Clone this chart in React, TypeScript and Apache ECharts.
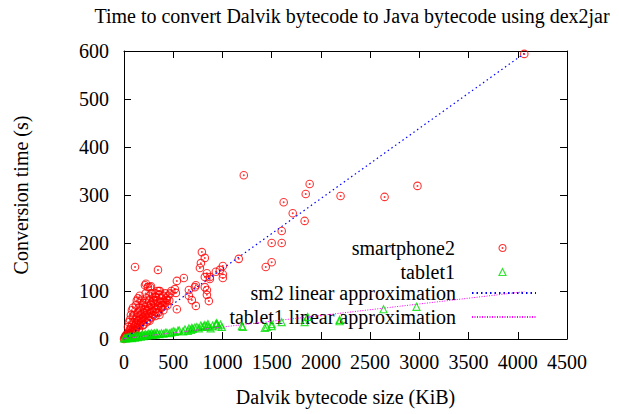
import React, { useEffect, useRef } from "react";
import * as echarts from "echarts";

const titleText = "Time to convert Dalvik bytecode to Java bytecode using dex2jar";
const xAxisName = "Dalvik bytecode size (KiB)";
const yAxisName = "Conversion time (s)";
const seriesNames = [
  "smartphone2",
  "tablet1",
  "sm2 linear approximation",
  "tablet1 linear approximation",
];

// smartphone2: [size KiB, time s]
const smartphone2: number[][] = [
  [4066, 594], [2981, 319], [2647, 296], [2200, 298], [1886, 323], [1846, 302],
  [1835, 246], [1714, 262], [1622, 285], [1602, 225], [1602, 200], [1500, 200],
  [1500, 160], [1440, 150], [1217, 341], [1166, 167],
  [1004, 152], [974, 144], [933, 140], [1004, 135], [1004, 127], [872, 129],
  [842, 137], [821, 129], [872, 125], [791, 181], [821, 169], [781, 158],
  [771, 148], [730, 112], [720, 108], [821, 108], [842, 102], [608, 127],
  [537, 121], [517, 104], [527, 96], [659, 102], [659, 90], [689, 81],
  [730, 69], [842, 92], [862, 79], [537, 62], [345, 144], [112, 150],
  [355, 100], [223, 115], [243, 108], [274, 110], [325, 88], [213, 112],
  [264, 108], [365, 100], [314, 88], [142, 85], [436, 81], [91, 65],
  [91, 48], [172, 65], [274, 71], [395, 77], [375, 67],
  [0, 0], [10, -2], [5, 2], [10, 5], [15, 3], [20, 8], [25, 4], [30, 10],
  [35, 6], [40, 12], [45, 3], [50, 15], [55, 9], [60, 20], [65, 12], [70, 25],
  [75, 8], [80, 18], [85, 30], [90, 14], [95, 22], [100, 35], [105, 17],
  [110, 28], [115, 40], [120, 20], [125, 32], [130, 45], [135, 25], [140, 55],
  [145, 30], [150, 38], [155, 48], [160, 28], [165, 60], [170, 35], [175, 42],
  [180, 52], [185, 38], [190, 70], [195, 45], [200, 55], [205, 40], [210, 62],
  [215, 50], [220, 75], [225, 45], [230, 58], [240, 52], [245, 68], [250, 48],
  [255, 80], [260, 60], [270, 55], [275, 72], [280, 62], [290, 58], [295, 85],
  [300, 65], [310, 75], [320, 62], [330, 70], [340, 80], [350, 68], [360, 92],
  [370, 75], [380, 85], [390, 70], [400, 90], [410, 78], [420, 95], [430, 85],
  [450, 90], [470, 95], [480, 100], [400, 60], [350, 55], [300, 50], [250, 40],
  [60, 40], [70, 50], [80, 60], [120, 70], [130, 80], [150, 65], [160, 90],
  [180, 80], [200, 75], [220, 95], [230, 85], [260, 90], [280, 95], [300, 80],
  [320, 95], [340, 100], [420, 75], [440, 70], [460, 80], [380, 65], [330, 55],
  [280, 45], [230, 35], [190, 28], [150, 20], [110, 12], [70, 6], [40, 25],
  [50, 35], [100, 50], [140, 38], [200, 30], [260, 38], [320, 48], [360, 50],
];

// tablet1: [size KiB, time s]
const tablet1: number[][] = [
  [2971, 67], [2636, 62], [2190, 40], [2190, 37], [1866, 46], [1835, 35],
  [1602, 35], [1500, 27], [1500, 31], [1450, 25], [1430, 23], [1207, 25],
  [1197, 27], [994, 25], [943, 31], [943, 33], [933, 31], [852, 31],
  [842, 27], [821, 29], [811, 27], [791, 25], [740, 25], [700, 21],
  [689, 23], [649, 17], [547, 17], [517, 15], [436, 13], [335, 13], [264, 10],
  [0, 1], [10, 2], [20, 1], [30, 3], [40, 2], [50, 4], [60, 3], [70, 5],
  [80, 2], [90, 4], [100, 6], [110, 3], [120, 5], [130, 7], [140, 4],
  [150, 6], [160, 8], [170, 5], [180, 7], [190, 9], [200, 6], [210, 8],
  [220, 10], [230, 7], [240, 9], [250, 11], [270, 8], [280, 12], [290, 9],
  [300, 10], [310, 12], [320, 9], [340, 11], [360, 10], [380, 12], [400, 11],
  [420, 13], [460, 12], [480, 14], [500, 16], [560, 18], [600, 16], [620, 20],
  [660, 22], [680, 19], [720, 24], [760, 22], [780, 28], [860, 25], [880, 22],
  [900, 28], [960, 26], [980, 30],
];

// linear approximations: y = slope * x + intercept over the data range
const fitRangeX = [0, 4066];
const sm2Slope = 0.1463;
const sm2Intercept = 0;
const tabletSlope = 0.024;
const tabletIntercept = 1;

const xTicks = { min: 0, max: 4500, interval: 500 };
const yTicks = { min: 0, max: 600, interval: 100 };

const FONT = "Liberation Serif, Times New Roman, serif";
const FS = 20;
const RED = "#ff0000";
const GREEN = "#00e000";
const circleDot =
  "path://M0,-10A10,10 0 1,1 0,10A10,10 0 1,1 0,-10Z M0,-1.2A1.2,1.2 0 1,1 0,1.2A1.2,1.2 0 1,1 0,-1.2Z";

export default function App() {
  const ref = useRef<HTMLDivElement>(null);
  useEffect(() => {
    if (!ref.current) return;
    const chart = echarts.init(ref.current, undefined, { renderer: "svg" });
    const sm2Line = fitRangeX.map((x) => [x, sm2Slope * x + sm2Intercept]);
    const tabLine = fitRangeX.map((x) => [x, tabletSlope * x + tabletIntercept]);
    const legendCenters = [247, 271, 295, 319];
    const legendItems: any[] = [
      {
        name: seriesNames[0],
        icon: circleDot,
        itemStyle: { color: "none", borderColor: RED, borderWidth: 1.1 },
      },
      {
        name: seriesNames[1],
        icon: "triangle",
        itemStyle: { color: "none", borderColor: GREEN, borderWidth: 1.2 },
      },
      { name: seriesNames[2] },
      { name: seriesNames[3] },
    ];
    const isScatter = [true, true, false, false];
    const baseAxis = (pos: string, showLabel: boolean) => ({
      position: pos,
      axisLine: { show: true, onZero: false, lineStyle: { color: "#000", width: 1 } },
      axisTick: { show: true, inside: true, length: 7, lineStyle: { color: "#000" } },
      axisLabel: {
        show: showLabel,
        color: "#000",
        fontFamily: FONT,
        fontSize: FS,
        formatter: (v: number) => String(v),
      },
      splitLine: { show: false },
    });
    chart.setOption({
      animation: false,
      backgroundColor: "#fff",
      title: {
        text: titleText,
        left: 347,
        textAlign: "center",
        top: 1,
        textStyle: { fontFamily: FONT, fontSize: FS, fontWeight: "normal", color: "#000" },
      },
      grid: { left: 124, right: 52, top: 51, bottom: 75, containLabel: false },
      legend: seriesNames.map((n, i) => ({
        data: [legendItems[i]],
        right: isScatter[i] ? 110.5 : 82,
        top: legendCenters[i] - (isScatter[i] ? 9 : 12),
        orient: "vertical",
        align: "right",
        itemWidth: isScatter[i] ? 7 : 64,
        itemHeight: isScatter[i] ? 7 : 10,
        selectedMode: false,
        padding: 0,
        ...(isScatter[i]
          ? {}
          : { itemStyle: { color: "rgba(0,0,0,0)", borderWidth: 0, opacity: 0 } }),
        textStyle: {
          fontFamily: FONT,
          fontSize: FS,
          color: "#000",
          padding: [0, isScatter[i] ? 39 : 11, 0, 0],
        },
      })),
      xAxis: [
        {
          type: "value",
          ...xTicks,
          ...baseAxis("bottom", true),
          axisLabel: { ...baseAxis("bottom", true).axisLabel, margin: 13 },
          name: xAxisName,
          nameLocation: "middle",
          nameGap: 48,
          nameTextStyle: { fontFamily: FONT, fontSize: FS, color: "#000" },
        },
        { type: "value", ...xTicks, ...baseAxis("top", false) },
      ],
      yAxis: [
        {
          type: "value",
          ...yTicks,
          ...baseAxis("left", true),
          axisLabel: { ...baseAxis("left", true).axisLabel, margin: 15 },
          name: yAxisName,
          nameLocation: "middle",
          nameGap: 93,
          nameTextStyle: { fontFamily: FONT, fontSize: FS, color: "#000" },
        },
        { type: "value", ...yTicks, ...baseAxis("right", false) },
      ],
      series: [
        {
          name: seriesNames[0],
          type: "scatter",
          data: smartphone2,
          symbol: circleDot,
          symbolSize: 7.5,
          itemStyle: { color: "none", borderColor: RED, borderWidth: 1.1 },
          z: 3,
        },
        {
          name: seriesNames[1],
          type: "scatter",
          data: tablet1,
          symbol: "triangle",
          symbolSize: 7,
          itemStyle: { color: "none", borderColor: GREEN, borderWidth: 1.2 },
          z: 4,
        },
        {
          name: seriesNames[2],
          type: "line",
          data: sm2Line,
          symbol: "none",
          lineStyle: { color: "#0000ff", width: 1.2, type: [1.5, 3] },
          itemStyle: { color: "#0000ff" },
          z: 5,
        },
        {
          name: seriesNames[3],
          type: "line",
          data: tabLine,
          symbol: "none",
          lineStyle: { color: "#ff00ff", width: 1, type: [1, 1.5] },
          itemStyle: { color: "#ff00ff" },
          z: 5,
        },
      ],
    });
    return () => chart.dispose();
  }, []);
  return <div ref={ref} style={{ width: 619, height: 414, position: "absolute", left: 0, top: 0 }} />;
}
